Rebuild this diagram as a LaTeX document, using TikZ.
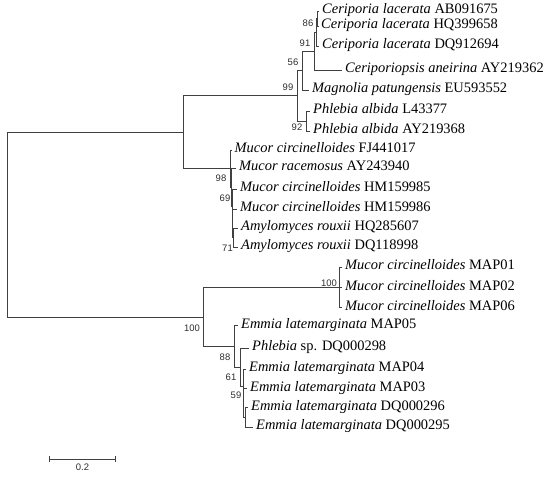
\documentclass[tikz,border=0pt]{standalone}
\usepackage{fontspec}
\setmainfont{Liberation Serif}
\newfontfamily\bootfont{Liberation Sans}
\usetikzlibrary{arrows.meta, positioning}
\definecolor{linecol}{RGB}{64, 64, 64}
\definecolor{bootcol}{RGB}{45, 45, 45}
\tikzset{
  branch/.style   = {draw=linecol, line width=0.9bp},
  leaf/.style     = {anchor=west, inner xsep=3bp, inner ysep=0pt,
                     text height=0.68em, text depth=0.2em,
                     font=\fontsize{14.5}{16}\selectfont},
  boot/.style     = {inner sep=1bp, text=bootcol,
                     font=\bootfont\fontsize{9.5}{10}\selectfont},
  scalebar/.style = {branch, {Bar[width=6bp]}-{Bar[width=6bp]}},
}

\begin{document}
\begin{tikzpicture}[x=1bp, y=-1bp]
  \useasboundingbox (0,0) rectangle (550,477);

  %% ---------------- internal nodes ----------------
  \coordinate (root) at (7,224.6);
  \coordinate (cA)   at (183,132.2);
  \coordinate (n99)  at (297,95.8);
  \coordinate (n56)  at (302,70.6);
  \coordinate (ncer) at (314.7,51.1);
  \coordinate (n91)  at (316,32.3);
  \coordinate (n86)  at (317.5,18.5);
  \coordinate (n92)  at (306.7,121);
  \coordinate (n98)  at (230.5,168.6);
  \coordinate (n69)  at (231.3,187.3);
  \coordinate (nmuc) at (232,206.2);
  \coordinate (namy) at (232.7,223.4);
  \coordinate (n71)  at (233.5,237.8);
  \coordinate (cB)   at (203,317);
  \coordinate (nmap) at (339.5,287.5);
  \coordinate (n88)  at (234.5,346.5);
  \coordinate (n61)  at (240.7,367.2);
  \coordinate (n59)  at (243,386);
  \coordinate (nem1) at (243.5,403.1);
  \coordinate (nem2) at (245.5,417.5);

  %% ---------------- leaves ----------------
  \node[leaf] (l1)  at (319,11)    {\textit{Ceriporia lacerata} AB091675};
  \node[leaf] (l2)  at (318,26)    {\textit{Ceriporia lacerata} HQ399658};
  \node[leaf] (l3)  at (319,46)    {\textit{Ceriporia lacerata} DQ912694};
  \node[leaf] (l4)  at (342,70)    {\textit{Ceriporiopsis aneirina} AY219362};
  \node[leaf] (l5)  at (309,90)    {\textit{Magnolia patungensis} EU593552};
  \node[leaf] (l6)  at (310,111)   {\textit{Phlebia albida} L43377};
  \node[leaf] (l7)  at (310,131)   {\textit{Phlebia albida} AY219368};
  \node[leaf] (l8)  at (231.5,150) {\textit{Mucor circinelloides} FJ441017};
  \node[leaf] (l9)  at (236,168.3) {\textit{Mucor racemosus} AY243940};
  \node[leaf] (l10) at (237,189)   {\textit{Mucor circinelloides} HM159985};
  \node[leaf] (l11) at (237,209)   {\textit{Mucor circinelloides} HM159986};
  \node[leaf] (l12) at (238,228.3) {\textit{Amylomyces rouxii} HQ285607};
  \node[leaf] (l13) at (238,247.3) {\textit{Amylomyces rouxii} DQ118998};
  \node[leaf] (l14) at (342,267.3) {\textit{Mucor circinelloides} MAP01};
  \node[leaf] (l15) at (342,287.7) {\textit{Mucor circinelloides} MAP02};
  \node[leaf] (l16) at (342,307.7) {\textit{Mucor circinelloides} MAP06};
  \node[leaf] (l17) at (238,325.7) {\textit{Emmia latemarginata} MAP05};
  \node[leaf] (l18) at (249,348.3) {\textit{Phlebia} sp. DQ000298};
  \node[leaf] (l19) at (246,369)   {\textit{Emmia latemarginata} MAP04};
  \node[leaf] (l20) at (247,388.7) {\textit{Emmia latemarginata} MAP03};
  \node[leaf] (l21) at (248,407.7) {\textit{Emmia latemarginata} DQ000296};
  \node[leaf] (l22) at (253,427.3) {\textit{Emmia latemarginata} DQ000295};

  %% ---------------- branches ----------------
  \draw[branch] (root) |- (cA);
  \draw[branch] (root) |- (cB);

  % upper clade
  \draw[branch] (cA) |- (n99);
  \draw[branch] (cA) |- (n98);
  \draw[branch] (n99) |- (n56);
  \draw[branch] (n99) |- (n92);
  \draw[branch] (n56) |- (ncer);
  \draw[branch] (n56) |- (l5);
  \draw[branch] (ncer) |- (n91);
  \draw[branch] (ncer) |- (l4);
  \draw[branch] (n91) |- (n86);
  \draw[branch] (n91) |- (l3);
  \draw[branch] (n86) |- (l1);
  \draw[branch] (n86) |- (l2);
  \draw[branch] (n92) |- (l6);
  \draw[branch] (n92) |- (l7);
  \draw[branch] (n98) |- (l8);
  \draw[branch] (n98) |- (n69);
  \draw[branch] (n69) |- (l9);
  \draw[branch] (n69) |- (nmuc);
  \draw[branch] (nmuc) |- (l10);
  \draw[branch] (nmuc) |- (namy);
  \draw[branch] (namy) |- (l11);
  \draw[branch] (namy) |- (n71);
  \draw[branch] (n71) |- (l12);
  \draw[branch] (n71) |- (l13);

  % lower clade
  \draw[branch] (cB) |- (nmap);
  \draw[branch] (cB) |- (n88);
  \draw[branch] (nmap) |- (l14);
  \draw[branch] (nmap) |- (l15);
  \draw[branch] (nmap) |- (l16);
  \draw[branch] (n88) |- (l17);
  \draw[branch] (n88) |- (n61);
  \draw[branch] (n61) |- (l18);
  \draw[branch] (n61) |- (n59);
  \draw[branch] (n59) |- (l19);
  \draw[branch] (n59) |- (nem1);
  \draw[branch] (nem1) |- (l20);
  \draw[branch] (nem1) |- (nem2);
  \draw[branch] (nem2) |- (l21);
  \draw[branch] (nem2) |- (l22);

  %% ---------------- bootstrap values ----------------
  \node[boot] (b86)  at (308,23)    {86};
  \node[boot] (b91)  at (305,43)    {91};
  \node[boot] (b56)  at (293,62)    {56};
  \node[boot] (b99)  at (288,87)    {99};
  \node[boot] (b92)  at (297,127)   {92};
  \node[boot] (b98)  at (221,178)   {98};
  \node[boot] (b69)  at (225,198)   {69};
  \node[boot] (b71)  at (227.5,248) {71};
  \node[boot] (bB)   at (192,328)   {100};
  \node[boot] (bmap) at (329,283)   {100};
  \node[boot] (b88)  at (225,357)   {88};
  \node[boot] (b61)  at (231,377)   {61};
  \node[boot] (b59)  at (236,395)   {59};

  %% ---------------- scale bar ----------------
  \coordinate (sb0) at (49,459);
  \coordinate (sb1) at (116,459);
  \draw[scalebar] (sb0) -- node[boot, below=3bp] (sblabel) {0.2} (sb1);

\end{tikzpicture}
\end{document}
